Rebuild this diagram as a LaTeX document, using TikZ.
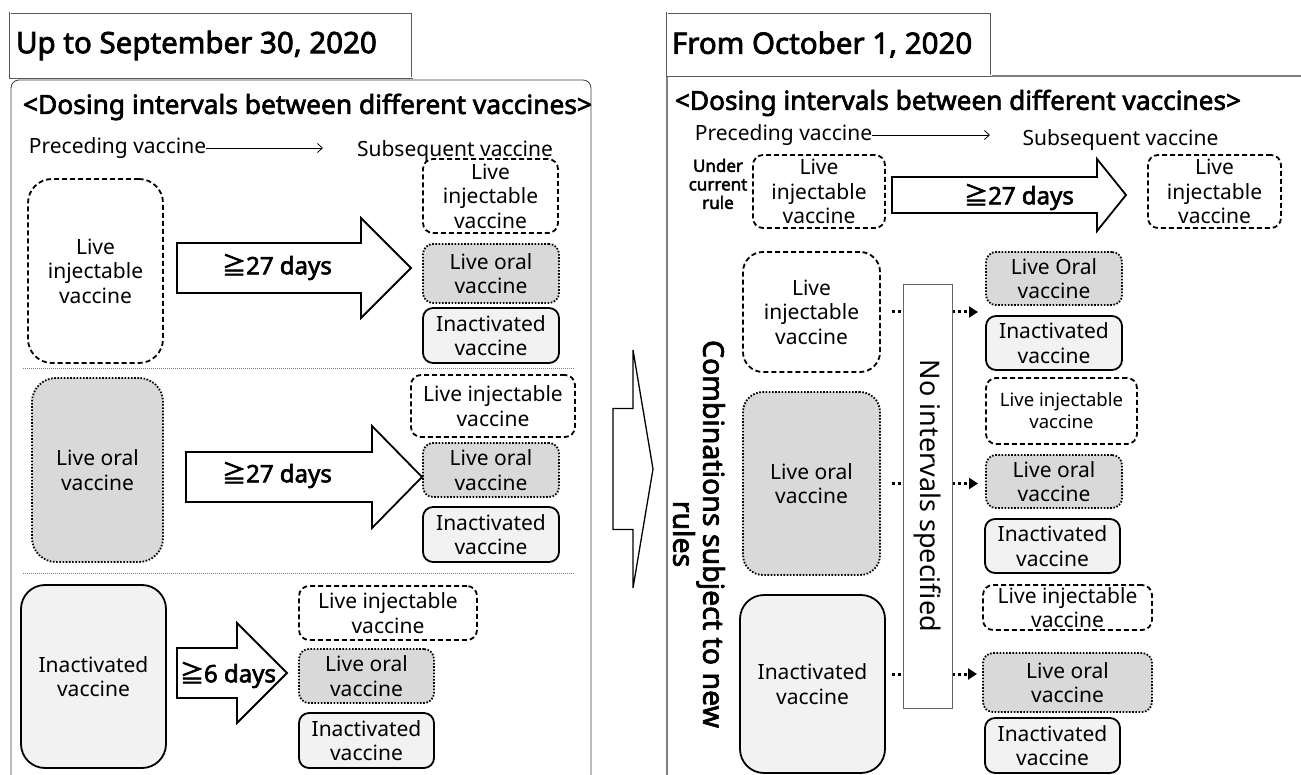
\documentclass[tikz,border=0pt]{standalone}
\usepackage{fontspec}
\usepackage{graphicx}
\setmainfont{Noto Sans}[BoldFont={Noto Sans}, BoldFeatures={FakeBold=2.5}]
\newfontfamily\cjkf{Noto Sans CJK JP}[BoldFont={Noto Sans CJK JP}, BoldFeatures={FakeBold=2.5}]
\usetikzlibrary{arrows.meta}
\definecolor{oralgray}{HTML}{D9D9D9}
\definecolor{inactgray}{HTML}{F2F2F2}
\definecolor{framegray}{HTML}{7F7F7F}
\newcommand\fitw[2]{\resizebox{#1pt}{!}{#2}}
\newcommand\geqq{{\cjkf ≧}}
\newcommand\vb[7]{\node[#6, minimum width={#4-#2}, minimum height={#5-#3}] (#1) at ({(#2+#4)/2},{(#3+#5)/2}) {#7};}
\newcommand\fatarrow[7][]{\draw[fat,#1] (#2,{#5-#6}) -- (#3,{#5-#6}) -- (#3,{#5-#7}) -- (#4,#5) -- (#3,{#5+#7}) -- (#3,{#5+#6}) -- (#2,{#5+#6}) -- cycle;}
\tikzset{
 vbox/.style={align=center, inner sep=0pt, outer sep=0pt, line width=1.8pt, font=\fontsize{21}{24.5}\selectfont, rounded corners=10pt},
 injbox/.style={vbox, draw, fill=white, dash pattern=on 5pt off 3pt},
 oralbox/.style={vbox, draw, fill=oralgray, dash pattern=on 1.6pt off 1.6pt},
 inactbox/.style={vbox, draw, fill=inactgray},
 bigbox/.style={rounded corners=24pt},
 fat/.style={draw, line width=1.8pt, fill=white, line join=miter},
 lab/.style={font=\fontsize{24}{24}\selectfont\bfseries, inner sep=0pt},
 plain/.style={inner sep=0pt, outer sep=0pt},
 txt/.style={plain, font=\fontsize{21}{24}\selectfont},
 thinarr/.style={line width=0.8pt, -{Straight Barb[length=5pt,width=9pt]}},
 dotarr/.style={line width=3pt, dash pattern=on 3pt off 3pt, -{Triangle[length=9pt,width=11pt]}},
 sepline/.style={draw=gray, line width=0.8pt, dash pattern=on 1pt off 1pt},
 titlebox/.style={draw=black!65, double=white, double distance=1pt, line width=0.9pt},
 titletxt/.style={plain, anchor=west, font=\fontsize{29.5}{31}\selectfont\bfseries},
}
\begin{document}
\begin{tikzpicture}[x=1pt,y=-1pt]
\useasboundingbox (0,0) rectangle (1301,775);
\fill[white] (0,0) rectangle (1301,775);
\clip (0,0) rectangle (1301,775);

% ---------- left panel ----------
\draw[draw=black!75, line width=0.8pt, rounded corners=8pt] (11,80) rectangle (591,800);
\draw[titlebox] (10,13) rectangle (412,78);
\node[titletxt] (ttL) at (16,45.5) {Up to September 30, 2020};
\node[plain, font=\bfseries] (hdL) at (307.5,107) {\fitw{569}{<Dosing intervals between different vaccines>}};
\node[txt] (pvL) at (117.5,148) {Preceding vaccine};
\coordinate (pvLe) at (323,148);
\draw[thinarr] (pvL.east) -- (pvLe);
\node[txt] (svL) at (455,151) {Subsequent vaccine};

% group 1
\vb{g1a}{423}{159}{558}{233}{injbox}{Live\\injectable\\vaccine}
\vb{g1p}{28}{179}{163}{363}{injbox,bigbox}{Live\\injectable\\vaccine}
\vb{g1b}{423}{244}{559}{303}{oralbox}{Live oral\\vaccine}
\vb{g1c}{423}{308}{559}{363}{inactbox}{Inactivated\\vaccine}
\fatarrow{177}{361}{411}{268}{25}{50}
\node[lab] (lab1) at (277,267) {\geqq27 days};
\draw[sepline] (23,368) -- (575,368);

% group 2
\vb{g2p}{32}{378}{163}{562}{oralbox,bigbox}{Live oral\\vaccine}
\vb{g2a}{411}{375}{575}{437}{injbox}{Live injectable\\vaccine}
\vb{g2b}{423}{443}{559}{497}{oralbox}{Live oral\\vaccine}
\vb{g2c}{423}{507}{559}{562}{inactbox}{Inactivated\\vaccine}
\fatarrow{186}{372}{422}{477}{25}{51}
\node[lab] (lab2) at (277,475) {\geqq27 days};
\draw[sepline] (23,573) -- (575,573);

% group 3
\vb{g3p}{21}{585}{166}{768}{inactbox,bigbox}{Inactivated\\vaccine}
\vb{g3a}{299}{586}{477}{640}{injbox}{Live injectable\\vaccine}
\vb{g3b}{299}{649}{434}{703}{oralbox}{Live oral\\vaccine}
\vb{g3c}{299}{713}{434}{768}{inactbox}{Inactivated\\vaccine}
\fatarrow{177}{237}{287}{673}{25}{50}
\node[lab] (lab3) at (228,675) {\geqq6 days};

% ---------- middle arrow ----------
\fatarrow[line width=1.3pt]{613}{633}{653}{469}{60.5}{119}

% ---------- right panel ----------
\draw[draw=framegray, line width=1.5pt] (667,800) -- (667,76) -- (1310,76);
\draw[titlebox, fill=white] (667,13) rectangle (991,76);
\node[titletxt] (ttR) at (672,44.5) {From October 1, 2020};
\node[plain, font=\bfseries] (hdR) at (958,103) {\fitw{566}{<Dosing intervals between different vaccines>}};
\node[txt] (pvR) at (783.5,135) {Preceding vaccine};
\coordinate (pvRe) at (990,135);
\draw[thinarr] (pvR.east) -- (pvRe);
\node[txt] (svR) at (1120.5,140) {Subsequent vaccine};

\node[plain, align=center, font=\fontsize{17}{18.5}\selectfont\bfseries] (ucr) at (718,184) {Under\\current\\rule};
\vb{r0p}{753}{155}{885}{228}{injbox}{Live\\injectable\\vaccine}
\vb{r0s}{1148}{155}{1281}{228}{injbox}{Live\\injectable\\vaccine}
\fatarrow{892}{1097}{1126}{195}{18}{36}
\node[lab] (labR) at (1019,197) {\geqq27 days};

\node[plain, rotate=-90, align=center, font=\fontsize{28.5}{30}\selectfont\bfseries] (cmb) at (699,534) {Combinations subject to new\\rules};

\vb{r1p}{743}{252}{880}{372}{injbox,rounded corners=20pt}{Live\\injectable\\vaccine}
\vb{r2p}{743}{392}{880}{575}{oralbox,rounded corners=20pt}{Live oral\\vaccine}
\vb{r3p}{740}{595}{885}{773}{inactbox,bigbox}{Inactivated\\vaccine}

\vb{r1a}{986}{252}{1122}{305}{oralbox}{Live Oral\\vaccine}
\vb{r1b}{986}{316}{1122}{370}{inactbox}{Inactivated\\vaccine}
\vb{r2a}{986}{378}{1137}{444}{injbox,font=\fontsize{18.5}{22}\selectfont}{Live injectable\\vaccine}
\vb{r2b}{986}{455}{1122}{508}{oralbox}{Live oral\\vaccine}
\vb{r2c}{985}{519}{1120}{573}{inactbox}{Inactivated\\vaccine}
\vb{r3a}{983}{585}{1152}{630}{injbox}{Live injectable\\vaccine}
\vb{r3b}{983}{653}{1152}{712}{oralbox}{Live oral\\vaccine}
\vb{r3c}{985}{718}{1120}{773}{inactbox}{Inactivated\\vaccine}

\draw[dotarr] ([xshift=12pt]r1p.east) -- ([xshift=-8pt]r1p.east -| r1a.west);
\draw[dotarr] ([xshift=12pt]r2p.east) -- ([xshift=-8pt]r2p.east -| r2b.west);
\draw[dotarr] ([xshift=7pt,yshift=10pt]r3p.east) -- ([xshift=-6pt,yshift=10pt]r3p.east -| r3b.west);

\node[rotate=-90, draw=black!60, line width=0.8pt, fill=white, minimum width=424pt, minimum height=49pt, inner sep=0pt] (noint) at (927.5,496) {\fitw{272}{No intervals specified}};
\end{tikzpicture}
\end{document}
